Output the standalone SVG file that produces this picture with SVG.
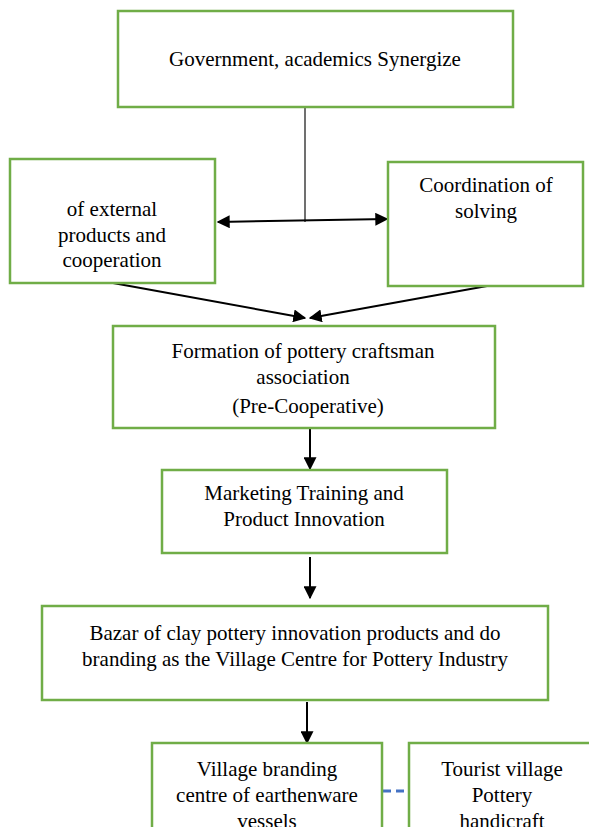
<svg xmlns="http://www.w3.org/2000/svg" width="589" height="827" viewBox="0 0 589 827">
<defs>
<marker id="ah2" viewBox="0 0 10 10" refX="9" refY="5" markerWidth="13" markerHeight="13" markerUnits="userSpaceOnUse" orient="auto-start-reverse">
<path d="M0,0 L10,5 L0,10 z" fill="#000"/>
</marker>
</defs>
<rect width="589" height="827" fill="#fff"/>
<g id="connectors" stroke="#000" stroke-width="2" fill="none">
<line x1="305" y1="107" x2="305" y2="222" stroke="#404040" stroke-width="1.5"/>
<line x1="218" y1="222" x2="387" y2="219" marker-start="url(#ah2)" marker-end="url(#ah2)"/>
<line x1="113" y1="283" x2="305" y2="318" marker-end="url(#ah2)"/>
<line x1="487" y1="286" x2="310" y2="318" marker-end="url(#ah2)"/>
<line x1="310" y1="428" x2="310" y2="469" marker-end="url(#ah2)"/>
<line x1="310" y1="557" x2="310" y2="598" marker-end="url(#ah2)"/>
<line x1="307" y1="702" x2="307" y2="743" marker-end="url(#ah2)"/>
<line x1="383" y1="791" x2="409" y2="791" stroke="#4472C4" stroke-width="3" stroke-dasharray="8,5"/>
</g>
<g id="nodes">
<g id="n1"><rect x="118" y="11" width="395" height="96" fill="#fff" stroke="#70AD47" stroke-width="2.5"/>
<text x="315" y="66" font-family="Liberation Serif" font-size="21" text-anchor="middle">Government, academics Synergize</text></g>
<g id="n2"><rect x="10" y="159" width="205" height="124" fill="#fff" stroke="#70AD47" stroke-width="2.5"/>
<text x="112" y="216" font-family="Liberation Serif" font-size="21" text-anchor="middle">of external</text>
<text x="112" y="242" font-family="Liberation Serif" font-size="21" text-anchor="middle">products and</text>
<text x="112" y="267" font-family="Liberation Serif" font-size="21" text-anchor="middle">cooperation</text></g>
<g id="n3"><rect x="388" y="162" width="195" height="124" fill="#fff" stroke="#70AD47" stroke-width="2.5"/>
<text x="486" y="192" font-family="Liberation Serif" font-size="21" text-anchor="middle">Coordination of</text>
<text x="486" y="218" font-family="Liberation Serif" font-size="21" text-anchor="middle">solving</text></g>
<g id="n4"><rect x="113" y="326" width="382" height="102" fill="#fff" stroke="#70AD47" stroke-width="2.5"/>
<text x="303" y="358" font-family="Liberation Serif" font-size="21" text-anchor="middle">Formation of pottery craftsman</text>
<text x="303" y="384" font-family="Liberation Serif" font-size="21" text-anchor="middle">association</text>
<text x="308" y="413" font-family="Liberation Serif" font-size="21" text-anchor="middle">(Pre-Cooperative)</text></g>
<g id="n5"><rect x="162" y="470" width="285" height="83" fill="#fff" stroke="#70AD47" stroke-width="2.5"/>
<text x="304" y="500" font-family="Liberation Serif" font-size="21" text-anchor="middle">Marketing Training and</text>
<text x="304" y="526" font-family="Liberation Serif" font-size="21" text-anchor="middle">Product Innovation</text></g>
<g id="n6"><rect x="42" y="606" width="506" height="94" fill="#fff" stroke="#70AD47" stroke-width="2.5"/>
<text x="295" y="640" font-family="Liberation Serif" font-size="21" text-anchor="middle">Bazar of clay pottery innovation products and do</text>
<text x="295" y="666" font-family="Liberation Serif" font-size="21" text-anchor="middle">branding as the Village Centre for Pottery Industry</text></g>
<g id="n7"><rect x="152" y="743" width="230" height="100" fill="#fff" stroke="#70AD47" stroke-width="2.5"/>
<text x="267" y="776" font-family="Liberation Serif" font-size="21" text-anchor="middle">Village branding</text>
<text x="267" y="802" font-family="Liberation Serif" font-size="21" text-anchor="middle">centre of earthenware</text>
<text x="267" y="828" font-family="Liberation Serif" font-size="21" text-anchor="middle">vessels</text></g>
<g id="n8"><rect x="409" y="743" width="200" height="100" fill="#fff" stroke="#70AD47" stroke-width="2.5"/>
<text x="502" y="776" font-family="Liberation Serif" font-size="21" text-anchor="middle">Tourist village</text>
<text x="502" y="802" font-family="Liberation Serif" font-size="21" text-anchor="middle">Pottery</text>
<text x="502" y="828" font-family="Liberation Serif" font-size="21" text-anchor="middle">handicraft</text></g>
</g>
</svg>
